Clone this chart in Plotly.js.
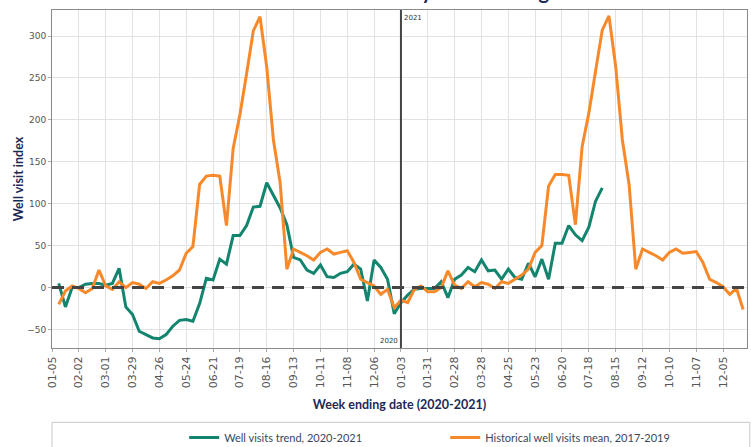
<!DOCTYPE html>
<html>
<head>
<meta charset="utf-8">
<script src="https://cdn.plot.ly/plotly-3.0.1.min.js"></script>
<style>html,body{margin:0;padding:0;background:#fff;}#chart{width:751px;height:447px;}</style>
</head>
<body>
<div id="chart"></div>
<script>
// Week-ending dates start
var start2020 = "2020-01-12";
var start2021 = "2021-01-03";

// Well visits trend, 2020-2021 (weekly index)
var green2020 = [5, -23, 0, 0, 4, 5, 5, 3, 5, 23, -23, -32, -52, -56, -60, -61, -56, -46, -39, -38, -40, -19, 11, 9, 34, 28, 62, 62, 74, 96, 97, 125, 110, 95, 75, 36, 33, 21, 17, 27, 13, 12, 17, 19, 28, 22, -16, 33, 24, 10, -31];
var green2021 = [-18, -9, -2, -1, -1, -1, 7, -12, 10, 15, 24, 19, 33, 20, 21, 10, 22, 12, 10, 29, 13, 34, 10, 53, 53, 74, 63, 56, 72, 103, 119];

// Historical well visits mean, 2017-2019 (weekly index)
var orange2020 = [-20, -4, 2, -1, -6, -1, 21, 2, -2, 7, 0, 6, 4, -1, 7, 5, 9, 14, 21, 41, 49, 123, 133, 134, 133, 74, 166, 206, 255, 306, 323, 263, 176, 125, 22, 46, 42, 38, 33, 42, 46, 40, 42, 44, 30, 10, 6, 2, -8, -2, -24];
var orange2021 = [-15, -18, -2, 2, -5, -5, 0, 20, 3, -1, 7, 1, 6, 4, -1, 7, 5, 10, 15, 22, 42, 50, 121, 135, 135, 134, 75, 168, 208, 258, 307, 324, 264, 176, 123, 22, 46, 42, 38, 33, 42, 46, 41, 42, 43, 30, 10, 6, 1, -8, -1, -26];

var seriesNames = ["Well visits trend, 2020-2021", "Historical well visits mean, 2017-2019"];
var yearMarkers = ["2020", "2021"];
var yTicks = [-50, 0, 50, 100, 150, 200, 250, 300];

function weekDates(startStr, n) {
  var out = [];
  var d0 = new Date(startStr + "T00:00:00Z");
  for (var i = 0; i < n; i++) {
    var d = new Date(d0.getTime() + i * 7 * 86400000);
    out.push(d.toISOString().slice(0, 10));
  }
  return out;
}

var gx = weekDates(start2020, green2020.length).concat(weekDates(start2021, green2021.length));
var gy = green2020.concat(green2021);
var ox = weekDates(start2020, orange2020.length).concat(weekDates(start2021, orange2021.length));
var oy = orange2020.concat(orange2021);

var navy = "#1c2957";
var human = "Lato, Open Sans, sans-serif";

var traces = [
  {x: gx, y: gy, type: "scatter", mode: "lines", name: seriesNames[0],
   line: {color: "#13856f", width: 3}},
  {x: ox, y: oy, type: "scatter", mode: "lines", name: seriesNames[1],
   line: {color: "#f7892a", width: 3}}
];

var layout = {
  width: 751, height: 447,
  margin: {l: 52, r: 4, t: 10, b: 99},
  paper_bgcolor: "#ffffff", plot_bgcolor: "#ffffff",
  title: {text: "Well visits by week ending date", x: 315 / 751, xanchor: "left", xref: "container", y: 1, yref: "container", yanchor: "bottom",
          pad: {b: 1},
          font: {family: human, size: 20, color: navy, weight: "bold"}},
  showlegend: true,
  legend: {orientation: "h", x: (184 - 51.7) / 695.6, xanchor: "left", yref: "container", y: 1 - 423 / 447, yanchor: "top",
           entrywidth: 216, entrywidthmode: "pixels",
           font: {family: human, size: 11, color: "#3a4660"}, bgcolor: "rgba(0,0,0,0)"},
  xaxis: {
    type: "date", range: ["2020-01-05", "2021-12-30"],
    tick0: "2020-01-05", dtick: 28 * 86400000, tickformat: "%m-%d", tickangle: -90,
    tickfont: {family: "DejaVu Sans, sans-serif", size: 11, color: "#555"},
    showgrid: true, gridcolor: "#e2e2e2", gridwidth: 1,
    showline: true, linecolor: "#8a8a8a", linewidth: 1, mirror: true,
    ticks: "outside", ticklen: 3, tickcolor: "#aaa", zeroline: false,
    title: {text: "Week ending date (2020-2021)", standoff: 12,
            font: {family: human, size: 12.5, color: navy, weight: "bold"}}
  },
  yaxis: {
    range: [-72, 331], tickvals: yTicks,
    tickfont: {family: "DejaVu Sans, sans-serif", size: 9, color: "#555"},
    showgrid: true, gridcolor: "#e2e2e2", gridwidth: 1,
    showline: true, linecolor: "#8a8a8a", linewidth: 1, mirror: true,
    ticks: "outside", ticklen: 3, tickcolor: "#aaa", zeroline: false,
    title: {text: "Well visit index", standoff: 0,
            font: {family: human, size: 12.5, color: navy, weight: "bold"}}
  },
  shapes: [
    {type: "line", xref: "x", yref: "y", x0: "2020-01-05", x1: "2021-12-30", y0: 0, y1: 0,
     line: {color: "#444", width: 3, dash: "12px,8px"}},
    {type: "line", xref: "x", yref: "paper", x0: start2021, x1: start2021, y0: 0, y1: 1,
     line: {color: "#444", width: 2}},
    {type: "rect", xref: "paper", yref: "paper", x0: 0, x1: 1.004, y0: -(422.7 - 348.3) / 338.3, y1: -0.35,
     line: {color: "#c8c8c8", width: 1}, fillcolor: "rgba(0,0,0,0)"}
  ],
  annotations: [
    {x: start2021, y: 1, xref: "x", yref: "paper", text: yearMarkers[1], showarrow: false,
     xanchor: "left", yanchor: "top", xshift: 1, yshift: -2, font: {family: "DejaVu Sans, sans-serif", size: 7, color: "#333"}},
    {x: start2021, y: 0, xref: "x", yref: "paper", text: yearMarkers[0], showarrow: false,
     xanchor: "right", yanchor: "bottom", xshift: -1, yshift: 1, font: {family: "DejaVu Sans, sans-serif", size: 7, color: "#333"}}
  ]
};

Plotly.newPlot("chart", traces, layout, {displayModeBar: false, staticPlot: true});
</script>
</body>
</html>
